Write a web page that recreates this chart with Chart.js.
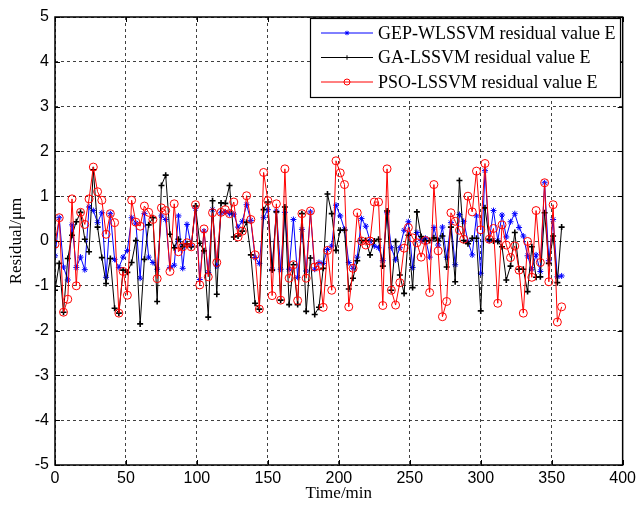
<!DOCTYPE html>
<html>
<head>
<meta charset="utf-8">
<script src="https://cdn.jsdelivr.net/npm/chart.js@4.4.1/dist/chart.umd.min.js"></script>
<style>
  html, body { margin: 0; padding: 0; background: #fff; }
</style>
</head>
<body>
<canvas id="residualChart" width="640" height="509"></canvas>
<script>
// sampling times (min)
const timeMin = [
  0, 3, 6, 9, 12, 15, 18, 21, 24, 27, 30, 33, 36, 39, 42, 45, 48, 51, 54, 57,
  60, 63, 66, 69, 72, 75, 78, 81, 84, 87, 90, 93, 96, 99, 102, 105, 108, 111, 114, 117,
  120, 123, 126, 129, 132, 135, 138, 141, 144, 147, 150, 153, 156, 159, 162, 165, 168, 171, 174, 177,
  180, 183, 186, 189, 192, 195, 198, 201, 204, 207, 210, 213, 216, 219, 222, 225, 228, 231, 234, 237,
  240, 243, 246, 249, 252, 255, 258, 261, 264, 267, 270, 273, 276, 279, 282, 285, 288, 291, 294, 297,
  300, 303, 306, 309, 312, 315, 318, 321, 324, 327, 330, 333, 336, 339, 342, 345, 348, 351, 354, 357
];

// residual E (um) of each model
const gepResidual = [
  -0.33, 0.52, -0.58, -0.87, 0.36, -0.59, -0.36, -0.64, 0.76, 0.68, 0.41, 0.63, -0.81, 0.61, -0.41, -0.59, -0.36, -0.21, 0.52, 0.40,
  -0.83, 0.61, -0.36, -0.48, -0.63, 0.56, 0.48, -0.59, -0.54, 0.56, -0.61, 0.37, -0.11, 0.73, -0.86, 0.22, -0.70, 0.70, -0.56, 0.63,
  0.65, 0.61, 0.60, 0.31, 0.44, 0.81, 0.46, -0.37, -0.50, 0.52, 0.70, -0.63, 0.67, -0.63, 0.64, -0.63, 0.48, -0.81, 0.26, -0.67,
  0.65, -0.63, -0.48, -0.50, -0.19, -0.11, 0.80, 0.56, 0.26, -0.48, -0.61, -0.36, 0.50, 0.33, 0.00, -0.11, -0.15, -0.44, 0.63, -0.15,
  -0.42, -0.15, 0.24, 0.43, -0.59, 0.19, 0.01, 0.06, -0.36, 0.30, -0.09, 0.31, -0.36, 0.41, -0.53, 0.59, 0.44, -0.01, -0.31, 0.56,
  -0.72, 1.57, 0.01, 0.68, 0.01, 0.58, 0.09, 0.43, 0.61, 0.30, 0.11, -0.33, -0.63, -0.31, -0.68, 1.30, -0.44, 0.48, -0.80, -0.78
];
const gaResidual = [
  -1.10, -0.50, -1.59, -0.39, 0.13, 0.43, 0.64, 0.04, -0.24, 1.59, 0.31, -0.37, -0.95, -0.39, -1.50, -1.61, -0.65, -0.70, -0.48, 0.01,
  -1.85, -0.41, 0.36, 0.52, -1.35, 1.24, 1.47, 0.15, -0.15, 0.04, -0.13, -0.06, -0.13, 0.78, -0.05, -0.22, -1.70, 0.90, -1.19, 0.85,
  0.84, 1.24, 0.09, 0.11, 0.22, 0.42, -0.31, -1.39, -1.52, 0.70, 0.87, -0.65, 0.65, -1.32, 0.76, -1.42, -0.53, -1.42, 0.61, -1.57,
  -0.38, -1.64, -1.48, -0.61, 1.05, 0.61, -0.21, 0.24, 0.24, -1.07, -0.83, -0.44, 0.01, 0.01, -0.31, 0.00, 0.04, -0.56, 0.67, -1.10,
  -0.01, -0.76, -1.17, 0.13, -1.04, 0.65, 0.10, 0.00, 0.01, 0.07, 0.01, 0.11, -0.58, 0.31, -0.91, 1.35, 0.01, -0.06, 0.06, 0.06,
  -1.56, 0.74, 0.04, 0.00, -0.01, -0.13, -0.87, -0.56, 0.19, -0.63, -0.63, -1.13, -0.13, -0.81, -0.80, 0.63, -0.50, 0.11, -0.93, 0.31
];
const psoResidual = [
  -0.07, 0.52, -1.59, -1.30, 0.94, -1.00, 0.64, 0.37, 0.94, 1.65, 1.10, 0.91, 0.15, 0.61, 0.41, -1.61, -0.68, -1.21, 0.91, 0.42,
  0.33, 0.78, 0.64, 0.48, -0.84, 0.74, 0.68, -0.68, 0.83, -0.24, -0.13, -0.04, -0.13, 0.81, -0.98, 0.27, -0.80, 0.63, -0.48, 0.64,
  0.70, 0.61, 0.87, 0.09, 0.22, 1.01, 0.48, -0.31, -1.52, 1.53, 0.90, -1.22, 0.83, -1.32, 1.61, -0.83, -0.53, -1.33, 0.61, -0.83,
  0.67, -0.58, -0.56, -1.48, -0.21, -1.10, 1.79, 1.52, 1.26, -1.47, -0.61, 0.63, 0.00, -0.09, 0.00, 0.87, 0.87, -1.44, 1.61, -1.10,
  -1.43, -0.93, -0.16, 0.30, 0.07, -0.04, -0.36, 0.01, -1.15, 1.26, -0.22, -1.69, -1.35, 0.63, 0.44, 0.24, 0.04, 1.00, 0.65, 1.56,
  0.25, 1.73, 0.04, 0.28, -1.39, 0.36, -0.09, -0.37, -0.11, -0.65, -1.61, -0.01, -0.81, 0.68, -0.48, 1.30, -0.91, 0.81, -1.81, -1.47
];

const seriesNames = ['GEP-WLSSVM residual value E', 'GA-LSSVM residual value E', 'PSO-LSSVM residual value E'];
const xTicks = [0, 50, 100, 150, 200, 250, 300, 350, 400];
const yTicks = [-5, -4, -3, -2, -1, 0, 1, 2, 3, 4, 5];

const toPoints = vals => vals.map((v, i) => ({ x: timeMin[i], y: v }));

// matlab-like box with inward ticks on all four sides
const axesBox = {
  id: 'axesBox',
  afterDatasetsDraw(chart) {
    const { ctx, chartArea: a, scales } = chart;
    ctx.save();
    ctx.strokeStyle = '#000';
    ctx.lineWidth = 1;
    ctx.beginPath();
    xTicks.forEach(t => {
      const px = Math.round(scales.x.getPixelForValue(t)) + 0.5;
      ctx.moveTo(px, a.bottom); ctx.lineTo(px, a.bottom - 5);
      ctx.moveTo(px, a.top); ctx.lineTo(px, a.top + 5);
    });
    yTicks.forEach(t => {
      const py = Math.round(scales.y.getPixelForValue(t)) + 0.5;
      ctx.moveTo(a.left, py); ctx.lineTo(a.left + 5, py);
      ctx.moveTo(a.right, py); ctx.lineTo(a.right - 5, py);
    });
    ctx.stroke();
    ctx.lineWidth = 1.5;
    ctx.strokeRect(a.left, a.top, a.right - a.left, a.bottom - a.top);
    ctx.restore();
  }
};

const legendBox = {
  id: 'legendBox',
  afterDraw(chart) {
    const ctx = chart.ctx;
    const left = 310, top = 18, width = 310, height = 79;
    ctx.save();
    ctx.fillStyle = '#fff';
    ctx.fillRect(left, top, width, height);
    ctx.strokeStyle = '#000';
    ctx.lineWidth = 1.2;
    ctx.strokeRect(left + 0.5, top + 0.5, width, height);
    ctx.font = '18px "Liberation Serif", "Times New Roman", serif';
    ctx.textBaseline = 'middle';
    ctx.textAlign = 'left';
    chart.data.datasets.forEach((ds, i) => {
      const cy = 33 + i * 24.5;
      ctx.strokeStyle = ds.borderColor;
      ctx.lineWidth = 1;
      ctx.beginPath();
      ctx.moveTo(321, cy); ctx.lineTo(373, cy);
      ctx.stroke();
      ctx.strokeStyle = ds.pointBorderColor;
      ctx.fillStyle = ds.pointBackgroundColor;
      Chart.helpers.drawPoint(ctx, {
        pointStyle: ds.pointStyle,
        radius: ds.pointRadius * 0.75,
        borderWidth: ds.pointBorderWidth,
        rotation: 0
      }, 347, cy);
      ctx.fillStyle = '#000';
      ctx.fillText(ds.label, 378, cy + 1);
    });
    ctx.restore();
  }
};

const gridStyle = { color: 'rgba(0,0,0,0.75)', drawTicks: false, lineWidth: 1 };
const axisBorder = { display: false, dash: [3, 3] };

const ctx = document.getElementById('residualChart');
new Chart(ctx, {
  type: 'line',
  data: {
    datasets: [
      {
        label: seriesNames[0],
        data: toPoints(gepResidual),
        borderColor: '#0000ff',
        borderWidth: 1,
        pointStyle: 'star',
        pointRadius: 3,
        pointBorderWidth: 1,
        pointBorderColor: '#0000ff',
        pointBackgroundColor: '#0000ff',
        order: 3
      },
      {
        label: seriesNames[1],
        data: toPoints(gaResidual),
        borderColor: '#000000',
        borderWidth: 1,
        pointStyle: 'cross',
        pointRadius: 3,
        pointBorderWidth: 1.6,
        pointBorderColor: '#000000',
        pointBackgroundColor: '#000000',
        order: 2
      },
      {
        label: seriesNames[2],
        data: toPoints(psoResidual),
        borderColor: '#ff0000',
        borderWidth: 1,
        pointStyle: 'circle',
        pointRadius: 4,
        pointBorderWidth: 1,
        pointBorderColor: '#ff0000',
        pointBackgroundColor: 'rgba(255,255,255,0)',
        order: 1
      }
    ]
  },
  options: {
    responsive: false,
    animation: false,
    layout: { padding: { left: 0, right: 17, top: 17, bottom: 0 } },
    plugins: {
      legend: { display: false },
      tooltip: { enabled: false }
    },
    elements: { line: { tension: 0 } },
    scales: {
      x: {
        type: 'linear',
        min: 0,
        max: 400,
        afterBuildTicks: s => { s.ticks = xTicks.map(v => ({ value: v })); },
        afterFit: s => { s.height = 44; },
        ticks: {
          color: '#000',
          padding: 4,
          maxRotation: 0,
          font: { family: '"Liberation Sans", Arial, sans-serif', size: 16 }
        },
        grid: gridStyle,
        border: axisBorder,
        title: {
          display: true,
          text: 'Time/min',
          color: '#000',
          padding: { top: 0, bottom: 5 },
          font: { family: '"Liberation Serif", "Times New Roman", serif', size: 17 }
        }
      },
      y: {
        type: 'linear',
        min: -5,
        max: 5,
        afterBuildTicks: s => { s.ticks = yTicks.map(v => ({ value: v })); },
        afterFit: s => { s.width = 55; },
        ticks: {
          color: '#000',
          padding: 6,
          font: { family: '"Liberation Sans", Arial, sans-serif', size: 16 }
        },
        grid: gridStyle,
        border: axisBorder,
        title: {
          display: true,
          text: 'Residual/\u03bcm',
          color: '#000',
          padding: { top: 6, bottom: 0 },
          font: { family: '"Liberation Serif", "Times New Roman", serif', size: 17 }
        }
      }
    }
  },
  plugins: [axesBox, legendBox]
});
</script>
</body>
</html>
